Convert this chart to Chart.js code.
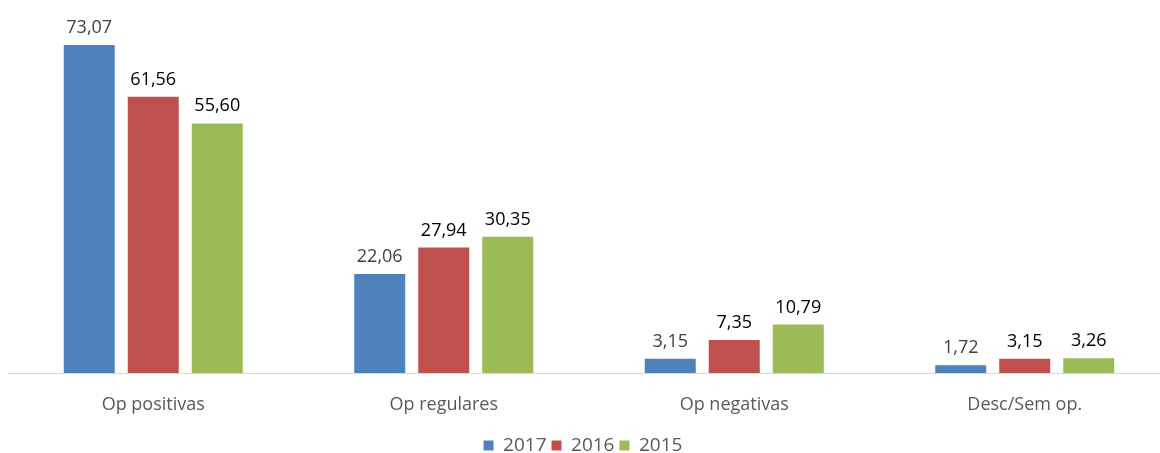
<!DOCTYPE html>
<html>
<head>
<meta charset="utf-8">
<script src="https://cdn.jsdelivr.net/npm/chart.js@4/dist/chart.umd.min.js"></script>
<style>
html,body{margin:0;padding:0;background:#fff;overflow:hidden;}
#wrap{width:1160px;height:453px;position:relative;overflow:hidden;}
#c{position:absolute;left:0;top:0;}
</style>
</head>
<body>
<div id="wrap"><canvas id="c" width="1180" height="465"></canvas></div>
<script>
const categories = ["Op positivas", "Op regulares", "Op negativas", "Desc/Sem op."];
const seriesNames = ["2017", "2016", "2015"];
const values2017 = [73.07, 22.06, 3.15, 1.72];
const values2016 = [61.56, 27.94, 7.35, 3.15];
const values2015 = [55.60, 30.35, 10.79, 3.26];
const seriesColors = ["#4F81BD", "#C0504D", "#9BBB59"];
const labelColors = ["#404040", "#000000", "#000000"];

const FONT = "'Open Sans', 'Noto Sans', sans-serif";

const valueLabels = {
  id: 'valueLabels',
  afterDatasetsDraw(chart) {
    const ctx = chart.ctx;
    ctx.save();
    ctx.font = "18px " + FONT;
    ctx.textAlign = 'center';
    ctx.textBaseline = 'alphabetic';
    chart.data.datasets.forEach((ds, i) => {
      const meta = chart.getDatasetMeta(i);
      meta.data.forEach((bar, j) => {
        ctx.fillStyle = labelColors[i];
        const txt = ds.data[j].toFixed(2).replace('.', ',');
        ctx.fillText(txt, bar.x, bar.y - 12);
      });
    });
    ctx.restore();
  }
};

const legendShift = {
  id: 'legendShift',
  afterLayout(chart) {
    if (chart.legend) {
      chart.legend.left -= 6;
      chart.legend.right -= 6;
    }
  }
};

new Chart(document.getElementById('c'), {
  type: 'bar',
  data: {
    labels: categories,
    datasets: [values2017, values2016, values2015].map((d, i) => ({
      label: seriesNames[i],
      data: d,
      backgroundColor: seriesColors[i],
      borderWidth: 0,
      barPercentage: 0.797,
      categoryPercentage: 0.661
    }))
  },
  options: {
    responsive: false,
    animation: false,
    layout: { padding: { top: 14, left: 8, right: 10, bottom: 0 } },
    scales: {
      x: {
        grid: { display: false, drawTicks: false },
        border: { display: true, color: '#D9D9D9', width: 1 },
        ticks: { color: '#595959', font: { family: FONT, size: 18, lineHeight: 1 }, padding: 23 },
        afterFit(scale) { scale.height = 58; }
      },
      y: {
        display: false,
        min: 0,
        max: 80
      }
    },
    plugins: {
      legend: {
        position: 'bottom',
        labels: {
          color: '#595959',
          font: { family: FONT, size: 19 },
          boxWidth: 10,
          boxHeight: 10,
          padding: 5
        }
      },
      tooltip: { enabled: false }
    }
  },
  plugins: [valueLabels, legendShift]
});
</script>
</body>
</html>
